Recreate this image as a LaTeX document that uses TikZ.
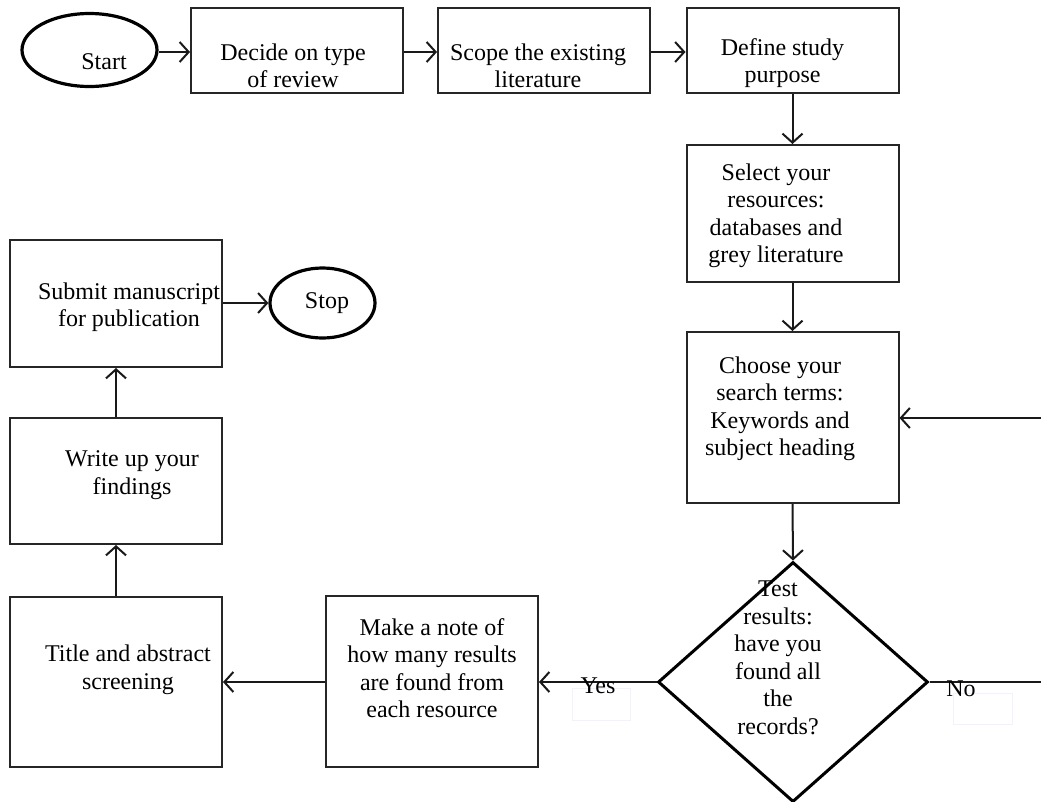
\documentclass[tikz,border=0pt]{standalone}
\usepackage{fontspec}
\setmainfont{Liberation Serif}
\usetikzlibrary{shapes.geometric,arrows.meta}
\begin{document}
\begin{tikzpicture}[x=1pt,y=-1pt,
  every node/.style={font=\fontsize{24}{27.5}\selectfont, inner sep=0pt},
  stepbox/.style={draw=black!85, line width=2pt, rectangle, minimum width=212pt},
  term/.style={draw=black, line width=3.2pt, ellipse},
  decision/.style={draw=black, line width=3pt, diamond, minimum width=270pt, minimum height=240pt, aspect=1.125},
  txt/.style={align=center},
  conn/.style={draw=black!90, line width=2pt, -{Straight Barb[length=9pt,width=20pt,line width=2pt]}},
  plain/.style={draw=black!90, line width=2pt},
  ghost/.style={draw=blue!5, line width=1pt, rectangle}
]
\useasboundingbox (0,0) rectangle (1041,801);

% top row
\node[term, minimum width=135pt, minimum height=73pt] (start) at (89.5,50) {};
\node[txt] (startT) at (104,62) {Start};
\node[stepbox, minimum height=85pt] (decide) at (297,50.5) {};
\node[txt] (decideT) at (293,66) {Decide on type\\of review};
\node[stepbox, minimum height=85pt] (scope) at (544,50.5) {};
\node[txt] (scopeT) at (538,66) {Scope the existing\\literature};
\node[stepbox, minimum height=85pt] (define) at (792.5,50.5) {};
\node[txt] (defineT) at (782.5,63) {Define study\\purpose};

% right column
\node[stepbox, minimum height=137pt] (select) at (792.5,213.5) {};
\node[txt] (selectT) at (776,216) {Select your\\resources:\\databases and\\grey literature};
\node[stepbox, minimum height=171pt] (choose) at (792.5,417.5) {};
\node[txt] (chooseT) at (780,409) {Choose your\\search terms:\\Keywords and\\subject heading};
\node[decision] (test) at (793,682) {};
\node[txt] (testT) at (778,658) {Test\\results:\\have you\\found all\\the\\records?};

% bottom row
\node[stepbox, minimum height=171pt] (make) at (432,681.5) {};
\node[txt] (makeT) at (432,668) {Make a note of\\how many results\\are found from\\each resource};
\node[stepbox, minimum height=170pt] (title) at (116,682) {};
\node[txt] (titleT) at (128,670) {Title and abstract\\screening};

% left column
\node[stepbox, minimum height=126pt] (write) at (116,481) {};
\node[txt] (writeT) at (132,475) {Write up your\\findings};
\node[stepbox, minimum height=127pt] (submit) at (116,303.5) {};
\node[txt] (submitT) at (129,307) {Submit manuscript\\for publication};
\node[term, minimum width=105pt, minimum height=70pt] (stop) at (322.5,303) {};
\node[txt] (stopT) at (327,303) {Stop};

% faint label boxes
\node[ghost, minimum width=58pt, minimum height=32pt] (yesbox) at (601,704) {};
\node[ghost, minimum width=59pt, minimum height=31pt] (nobox) at (982.5,708.5) {};

% edge coordinates
\coordinate (noEnd) at (1041,682);
\coordinate (loopIn) at (1041,418);

% connectors
\draw[conn] (start.east |- 0,52) -- (decide.west |- 0,52);
\draw[conn] (decide.east |- 0,52) -- (scope.west |- 0,52);
\draw[conn] (scope.east |- 0,52) -- (define.west |- 0,52);
\draw[conn] (define.south) -- (select.north);
\draw[conn] (select.south) -- (choose.north);
\draw[conn] (choose.south) -- (test.north);
\draw[conn] (loopIn) -- (choose.east |- loopIn);
\draw[conn] (test.west) -- (make.east |- test.west);
\draw[plain] (test.east) -- (noEnd);
\draw[conn] (make.west |- 0,682) -- (title.east |- 0,682);
\draw[conn] (title.north) -- (write.south);
\draw[conn] (write.north) -- (submit.south);
\draw[conn] (submit.east |- stop.west) -- (stop.west);

% labels
\node (yes) at (598,686) {Yes};
\node (no) at (961,689) {No};
\end{tikzpicture}
\end{document}
